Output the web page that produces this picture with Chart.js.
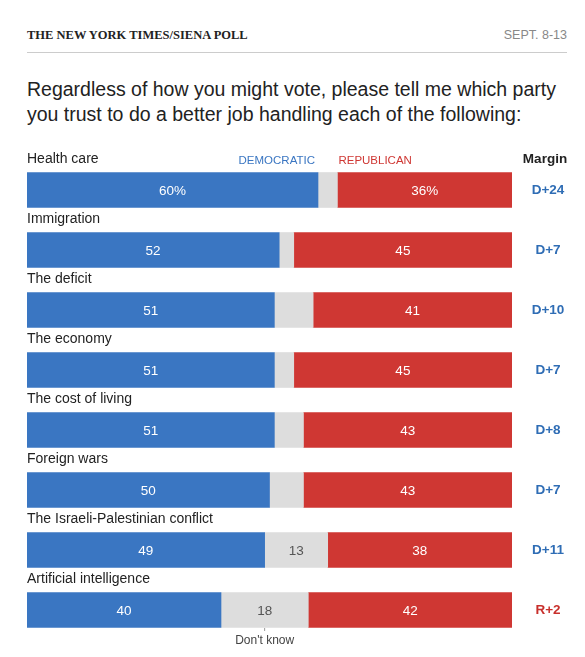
<!DOCTYPE html>
<html><head><meta charset="utf-8">
<script src="https://cdn.jsdelivr.net/npm/chart.js@4"></script>
<style>
body{margin:0;width:585px;height:657px;background:#fff;font-family:"Liberation Sans",Arial,sans-serif;position:relative;overflow:hidden}
#hdr{position:absolute;left:27px;top:28px;width:540px;height:24px;border-bottom:1px solid #ccc}
#hdr .l{position:absolute;left:0;top:0;font-family:"Liberation Serif",serif;font-weight:bold;font-size:12.5px;color:#222}
#hdr .r{position:absolute;right:0;top:0;font-size:12.5px;color:#888}
#title{position:absolute;left:27px;top:77px;width:540px;font-size:19.5px;line-height:25px;color:#222}
#wrap{position:absolute;left:0;top:130px;width:585px;height:527px}
</style></head><body>
<div id="hdr"><span class="l">THE NEW YORK TIMES/SIENA POLL</span><span class="r">SEPT. 8-13</span></div>
<div id="title">Regardless of how you might vote, please tell me which party you trust to do a better job handling each of the following:</div>
<div id="wrap"><canvas id="c"></canvas></div>
<script>
const categories=["Health care","Immigration","The deficit","The economy","The cost of living","Foreign wars","The Israeli-Palestinian conflict","Artificial intelligence"];
const democratic=[60,52,51,51,51,50,49,40];
const dontKnow=[4,3,8,4,6,7,13,18];
const republican=[36,45,41,45,43,43,38,42];
const margins=["D+24","D+7","D+10","D+7","D+8","D+7","D+11","R+2"];
const BLUE="#3a76c2",RED="#cf3733",GRAY="#dddddd";
const overlay={id:"overlay",afterDatasetsDraw(ch){
  const c=ch.ctx,ys=ch.scales.y,xs=ch.scales.x;
  c.save();c.textBaseline="middle";
  categories.forEach((cat,i)=>{
    const yc=ys.getPixelForValue(i);
    c.fillStyle="#222";c.font="14px 'Liberation Sans',Arial";c.textAlign="left";
    c.fillText(cat,xs.left,yc-31);
    const m=margins[i];c.font="bold 13.5px 'Liberation Sans',Arial";c.textAlign="center";
    c.fillStyle=m[0]==="D"?"#2f6db5":"#c8302c";c.fillText(m,548,yc);
    const vals=[democratic[i],dontKnow[i],republican[i]];let acc=0;
    vals.forEach((v,k)=>{const x0=xs.getPixelForValue(acc),x1=xs.getPixelForValue(acc+v);acc+=v;
      if(k===1&&v<10)return;
      c.fillStyle=k===1?"#555":"#fff";c.font="13.5px 'Liberation Sans',Arial";
      c.fillText(i===0&&k!==1?v+"%":String(v),(x0+x1)/2,yc+1);});
  });
  const y0=ys.getPixelForValue(0);
  c.font="11.5px 'Liberation Sans',Arial";c.textAlign="right";c.fillStyle=BLUE;
  c.fillText("DEMOCRATIC",xs.getPixelForValue(60)-3,y0-29);
  c.textAlign="left";c.fillStyle=RED;c.fillText("REPUBLICAN",xs.getPixelForValue(64)+1,y0-29);
  c.fillStyle="#222";c.font="bold 13.5px 'Liberation Sans',Arial";c.textAlign="center";c.fillText("Margin",545,y0-31);
  const yl=ys.getPixelForValue(7);const xm=xs.getPixelForValue(49);
  c.strokeStyle="#999";c.lineWidth=1;c.beginPath();c.moveTo(xm,yl+18);c.lineTo(xm,yl+21);c.stroke();
  c.fillStyle="#444";c.font="12px 'Liberation Sans',Arial";c.fillText("Don't know",xm,yl+31);
  c.restore();}};
new Chart(document.getElementById("c"),{type:"bar",
 data:{labels:categories,datasets:[
  {data:democratic,backgroundColor:BLUE},{data:dontKnow,backgroundColor:GRAY},{data:republican,backgroundColor:RED}]},
 options:{indexAxis:"y",responsive:true,maintainAspectRatio:false,animation:false,
  datasets:{bar:{barThickness:35,borderWidth:0}},
  layout:{padding:{left:27,right:73,top:30,bottom:17}},
  plugins:{legend:{display:false},tooltip:{enabled:false}},
  scales:{x:{stacked:true,min:0,max:100,display:false},y:{stacked:true,display:false}}},
 plugins:[overlay]});
</script></body></html>
